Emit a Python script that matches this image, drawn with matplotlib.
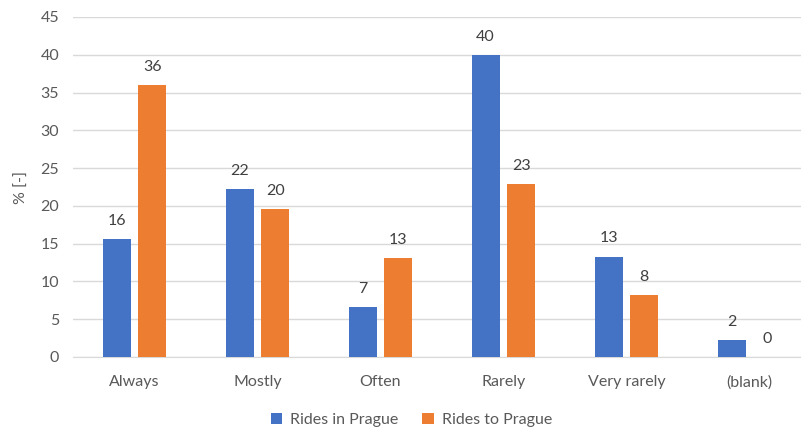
import matplotlib
matplotlib.use("Agg")
import matplotlib.pyplot as plt
import numpy as np

categories = ["Always", "Mostly", "Often", "Rarely", "Very rarely", "(blank)"]
rides_in = [15.6, 22.2, 6.6, 40.0, 13.3, 2.2]
rides_to = [36.0, 19.6, 13.1, 22.9, 8.2, 0.0]
series_names = ["Rides in Prague", "Rides to Prague"]
yticks = [0, 5, 10, 15, 20, 25, 30, 35, 40, 45]

blue = "#4472C4"
orange = "#ED7D31"
text_col = "#595959"
grid_col = "#D9D9D9"

plt.rcParams["font.family"] = ["Lato", "DejaVu Sans"]

fig = plt.figure(figsize=(8.01, 4.30), dpi=100)
ax = fig.add_axes([73 / 801, 1 - 357 / 430, (811 - 73) / 801, (357 - 17) / 430])

x = np.arange(len(categories))
w = 0.225
off = 0.145
b1 = ax.bar(x - off, rides_in, w, color=blue, label=series_names[0], zorder=3)
b2 = ax.bar(x + off, rides_to, w, color=orange, label=series_names[1], zorder=3)

for bars, vals in ((b1, rides_in), (b2, rides_to)):
    for rect, v in zip(bars, vals):
        ax.annotate(f"{round(v):.0f}", (rect.get_x() + rect.get_width() / 2, v),
                    xytext=(0, 8), textcoords="offset points", ha="center", va="bottom",
                    fontsize=11.5, color="#404040")

ax.set_xlim(-0.5, len(categories) - 0.5)
ax.set_ylim(0, 45)
ax.set_yticks(yticks)
ax.set_xticks(x)
ax.set_xticklabels(categories)
ax.tick_params(axis="both", length=0, labelsize=11.5, colors=text_col)
ax.tick_params(axis="x", pad=13)
ax.tick_params(axis="y", pad=10)
ax.yaxis.grid(True, color=grid_col, linewidth=1, zorder=0)
for s in ("top", "right", "left"):
    ax.spines[s].set_visible(False)
ax.spines["bottom"].set_color(grid_col)
ax.set_ylabel("% [-]", fontsize=11.5, color=text_col, labelpad=8)

ax.legend(loc="center", bbox_to_anchor=(0.4587, -0.185), ncol=2, frameon=False,
          fontsize=11.5, labelcolor=text_col, handlelength=0.7, handleheight=0.7,
          columnspacing=1.5, handletextpad=0.5)

fig.savefig("out.png", dpi=100)
